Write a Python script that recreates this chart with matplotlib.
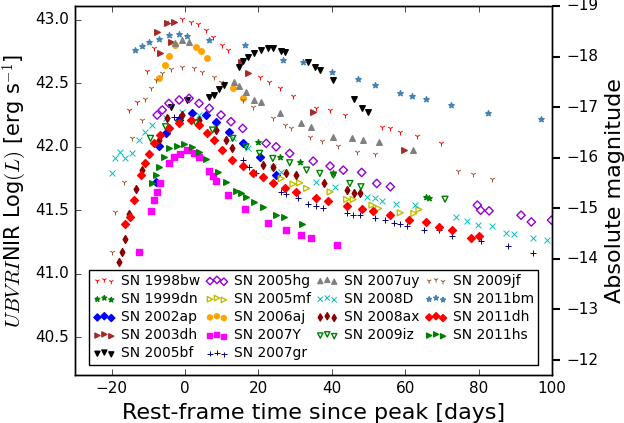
import matplotlib
matplotlib.use("Agg")
import matplotlib.pyplot as plt

plt.style.use("classic")

# ---- data (days since peak, log L) ----
sn98bw_t = [-15.3, -13.1, -10.3, -8.5, -5.3, -0.7, 1.6, 3.4, 5.7, 7.5, 10.2, 11.6, 20.3, 23.0, 25.8, 29.4,
            35.8, 39.5, 43.6, 53.6, 55.9, 58.6, 63.2, 69.6]
sn98bw_L = [42.29, 42.356, 42.6, 42.777, 42.987, 43.005, 42.987, 42.968, 42.921, 42.869, 42.803, 42.763,
            42.553, 42.513, 42.461, 42.4, 42.303, 42.29, 42.25, 42.158, 42.145, 42.119, 42.085, 42.032]
sn99dn_t = [19.8, 25.8, 31.2, 40.4, 65.5, 66.4]
sn99dn_L = [42.04, 41.921, 41.882, 41.79, 41.606, 41.6]
sn02ap_t = [-8.0, -7.1, -5.3, -1.6, 2.0, 5.7, 8.4, 12.0, 15.7, 20.3, 24.8]
sn02ap_L = [41.724, 42.008, 42.106, 42.211, 42.263, 42.25, 42.198, 42.119, 42.027, 41.921, 41.777]
sn03dh_t = [-7.6, -6.7, -4.8, -3.0, -3.9, 15.3, 17.1, 34.9, 59.5]
sn03dh_L = [42.908, 42.737, 42.974, 42.987, 42.829, 42.671, 42.579, 42.277, 41.974]
sn05bf_t = [-3.9, 0.6, 6.6, 8.0, 9.3, 10.7, 14.8, 15.7, 17.1, 18.9, 20.7, 22.6, 23.9, 26.2, 27.1, 33.5,
            35.3, 36.7, 40.2, 46.1, 48.1, 49.9]
sn05bf_L = [42.311, 42.369, 42.395, 42.408, 42.453, 42.487, 42.632, 42.679, 42.71, 42.737, 42.763, 42.777,
            42.782, 42.758, 42.745, 42.671, 42.632, 42.606, 42.527, 42.374, 42.303, 42.277]
sn05hg_t = [-7.6, -6.2, -4.4, -1.6, 1.1, 3.8, 6.6, 9.8, 12.5, 15.7, 22.1, 24.8, 28.5, 34.9, 39.5, 43.1,
            48.1, 52.2, 55.9, 79.6, 80.5, 82.8, 91.5, 94.3, 99.8]
sn05hg_L = [42.25, 42.29, 42.342, 42.369, 42.382, 42.342, 42.303, 42.25, 42.198, 42.145, 42.027, 42.0,
            41.948, 41.887, 41.848, 41.816, 41.798, 41.711, 41.685, 41.54, 41.5, 41.495, 41.461, 41.408, 41.422]
sn05mf_t = [26.2, 29.4, 31.2, 33.1, 39.5, 44.0, 45.8, 50.9, 52.7, 58.6, 62.3, 63.7]
sn05mf_L = [41.75, 41.706, 41.716, 41.672, 41.645, 41.585, 41.585, 41.54, 41.514, 41.48, 41.474, 41.506]
sn06aj_t = [-7.1, -5.5, -4.4, -2.6, 2.9, 4.3, 6.1, 13.0, 15.9]
sn06aj_L = [42.54, 42.645, 42.716, 42.803, 42.79, 42.758, 42.698, 42.461, 42.382]
sn07Y_t = [-12.6, -9.4, -8.5, -7.6, -6.7, -4.4, -3.0, -1.5, 0.6, 2.5, 3.7, 6.6, 7.5, 8.4, 11.6, 16.4,
           22.5, 27.6, 31.5, 34.4, 41.5]
sn07Y_L = [41.172, 41.495, 41.58, 41.645, 41.711, 41.874, 41.921, 41.943, 41.974, 41.953, 41.921, 41.811,
           41.769, 41.73, 41.619, 41.506, 41.4, 41.343, 41.303, 41.28, 41.224]
sn07gr_t = [-3.0, -1.6, 15.7, 17.5, 19.4, 26.2, 27.6, 30.8, 33.5, 35.8, 37.6, 44.0, 45.8, 47.7, 51.8,
            54.5, 56.8, 58.6, 60.5, 65.0, 69.1, 72.8, 80.5, 87.9, 94.7]
sn07gr_L = [42.237, 42.237, 41.895, 41.842, 41.79, 41.645, 41.627, 41.593, 41.553, 41.532, 41.514, 41.48,
            41.461, 41.461, 41.435, 41.422, 41.4, 41.395, 41.374, 41.348, 41.343, 41.295, 41.258, 41.216, 41.164]
sn07uy_t = [-2.6, -0.7, 1.1, 13.4, 14.8, 16.6, 18.9, 20.7, 25.8, 31.7, 34.4, 40.4, 45.4, 48.6, 52.7, 62.1]
sn07uy_L = [42.821, 42.842, 42.824, 42.513, 42.479, 42.435, 42.369, 42.356, 42.263, 42.19, 42.158,
            42.079, 42.071, 42.053, 42.04, 41.974]
sn08D_t = [-19.9, -19.0, -17.6, -16.3, -14.4, -12.6, -10.8, -9.0, -5.3, -0.7, 3.8, 8.4, 13.0, 17.1, 23.9,
           26.2, 35.8, 40.8, 49.5, 51.8, 53.6, 57.5, 62.7, 73.7, 76.7, 79.8, 83.5, 87.4, 89.7, 94.7, 98.6]
sn08D_L = [41.79, 41.908, 41.961, 41.908, 41.953, 42.053, 42.119, 42.171, 42.224, 42.277, 42.25, 42.158,
           42.066, 41.987, 41.842, 41.803, 41.724, 41.685, 41.606, 41.593, 41.572, 41.553, 41.54, 41.448,
           41.416, 41.382, 41.374, 41.322, 41.316, 41.285, 41.269]
sn08ax_t = [-17.9, -17.2, -16.4, -15.3, -13.3, -11.7, -7.1, -4.8, -0.7, 3.8, 8.4, 11.1, 12.9, 21.2, 23.9,
            27.6, 30.3, 37.9, 44.0, 46.0, 47.7]
sn08ax_L = [41.093, 41.172, 41.277, 41.474, 41.664, 41.816, 42.053, 42.224, 42.25, 42.211, 42.132, 42.053,
            41.987, 41.856, 41.842, 41.79, 41.777, 41.711, 41.658, 41.637, 41.632]
sn09iz_t = [-9.4, -5.3, -1.6, 2.9, 7.5, 13.0, 16.6, 20.3, 23.9, 28.5, 33.1, 36.7, 40.4, 44.9, 47.9, 70.8]
sn09iz_L = [42.066, 42.158, 42.184, 42.19, 42.132, 42.066, 42.0, 41.948, 41.908, 41.874, 41.816, 41.79,
            41.777, 41.711, 41.685, 41.587]
sn09jf_t = [-19.9, -19.0, -16.7, -14.4, -11.7, -10.8, -9.4, -8.0, -6.2, -3.9, -0.7, 2.5, 4.7, 7.9, 9.8,
            15.7, 18.5, 23.9, 27.1, 28.9, 34.0, 37.2, 41.7, 46.8, 51.8, 74.2, 78.3, 83.7]
sn09jf_L = [41.172, 41.488, 41.724, 42.066, 42.211, 42.374, 42.461, 42.527, 42.579, 42.613, 42.627, 42.619,
            42.592, 42.548, 42.513, 42.369, 42.316, 42.224, 42.171, 42.145, 42.079, 42.048, 42.006, 41.961,
            41.94, 41.811, 41.785, 41.745]
sn11bm_t = [-13.5, -11.7, -9.9, -7.1, -4.4, -1.6, 0.6, 6.6, 16.2, 26.7, 32.1, 39.9, 47.2, 51.8, 58.6,
            61.8, 65.5, 72.3, 82.4, 97.0]
sn11bm_L = [42.763, 42.795, 42.829, 42.848, 42.882, 42.89, 42.874, 42.842, 42.803, 42.684, 42.671, 42.592,
            42.535, 42.487, 42.421, 42.4, 42.377, 42.329, 42.269, 42.216]
sn11dh_t = [-16.3, -14.9, -14.0, -12.1, -10.8, -9.9, -8.5, -6.7, -4.4, -1.6, 1.6, 3.8, 6.1, 7.9, 10.2,
            12.9, 15.7, 18.5, 21.2, 23.9, 27.1, 30.3, 35.8, 39.0, 44.0, 48.1, 51.3, 55.9, 60.9, 65.5, 69.1,
            72.8, 77.8, 80.1]
sn11dh_L = [41.395, 41.448, 41.58, 41.777, 41.869, 41.943, 42.027, 42.092, 42.145, 42.19, 42.211, 42.171,
            42.106, 42.053, 41.974, 41.895, 41.848, 41.79, 41.764, 41.711, 41.672, 41.645, 41.6, 41.574,
            41.532, 41.506, 41.495, 41.461, 41.422, 41.408, 41.369, 41.348, 41.285, 41.295]
sn11hs_t = [-8.9, -8.0, -7.1, -5.8, -4.4, -2.1, -0.3, 1.8, 3.8, 5.8, 8.9, 11.1, 13.9, 15.3, 16.6, 18.9,
            21.2, 24.8, 26.9, 31.9]
sn11hs_L = [41.711, 41.777, 41.842, 41.916, 41.987, 42.006, 42.021, 42.0, 41.961, 41.903, 41.803, 41.724,
            41.653, 41.632, 41.606, 41.566, 41.527, 41.461, 41.443, 41.395]

# name, t, L, marker, colour, filled
series = [
    ("SN 1998bw", sn98bw_t, sn98bw_L, "1", "red", True),
    ("SN 1999dn", sn99dn_t, sn99dn_L, "*", "green", True),
    ("SN 2002ap", sn02ap_t, sn02ap_L, "D", "blue", True),
    ("SN 2003dh", sn03dh_t, sn03dh_L, ">", "brown", True),
    ("SN 2005bf", sn05bf_t, sn05bf_L, "v", "black", True),
    ("SN 2005hg", sn05hg_t, sn05hg_L, "D", "darkviolet", False),
    ("SN 2005mf", sn05mf_t, sn05mf_L, ">", "y", False),
    ("SN 2006aj", sn06aj_t, sn06aj_L, "o", "orange", True),
    ("SN 2007Y", sn07Y_t, sn07Y_L, "s", "magenta", True),
    ("SN 2007gr", sn07gr_t, sn07gr_L, "+", "navy", True),
    ("SN 2007uy", sn07uy_t, sn07uy_L, "^", "gray", True),
    ("SN 2008D", sn08D_t, sn08D_L, "x", "c", True),
    ("SN 2008ax", sn08ax_t, sn08ax_L, "d", "darkred", True),
    ("SN 2009iz", sn09iz_t, sn09iz_L, "v", "green", False),
    ("SN 2009jf", sn09jf_t, sn09jf_L, "1", "sienna", True),
    ("SN 2011bm", sn11bm_t, sn11bm_L, "*", "steelblue", True),
    ("SN 2011dh", sn11dh_t, sn11dh_L, "D", "red", True),
    ("SN 2011hs", sn11hs_t, sn11hs_L, ">", "green", True),
]

fig = plt.figure(figsize=(6.24, 4.23), dpi=100, facecolor="white")
ax = fig.add_axes([0.12, 0.113, 0.765, 0.873])

for name, t, L, mk, col, filled in series:
    if mk in ("1", "+", "x"):
        ax.scatter(t, L, marker=mk, color=col, s=18, linewidths=0.7, label=name)
    elif filled:
        ax.scatter(t, L, marker=mk, color=col, edgecolors=col, s=16, label=name)
    else:
        ax.scatter(t, L, marker=mk, facecolors="none", edgecolors=col, s=18, label=name)

ax.set_xlim(-30, 100)
ax.set_ylim(40.2, 43.11)
ax.set_xticks([-20, 0, 20, 40, 60, 80, 100])
ax.set_yticks([40.5, 41.0, 41.5, 42.0, 42.5, 43.0])
ax.tick_params(labelsize=11)
ax.set_xlabel("Rest-frame time since peak [days]", fontsize=16)
ax.set_ylabel(r"$UBVRI$NIR Log$(L)$ [erg s$^{-1}$]", fontsize=15)

ax.legend(loc="lower center", bbox_to_anchor=(0.5, 0.01), ncol=4, fontsize=10, scatterpoints=3,
          markerscale=0.9, handlelength=1.6, handletextpad=0.4, columnspacing=0.4, labelspacing=0.3,
          borderpad=0.3, frameon=True)

ax2 = ax.twinx()
ax2.set_ylim(-11.7, -19.0)
ax2.set_yticks([-12, -13, -14, -15, -16, -17, -18, -19])
ax2.tick_params(direction="out", labelsize=11, length=6, width=1.5)
ax2.set_ylabel("Absolute magnitude", fontsize=16)

fig.savefig("out.png", dpi=100, facecolor="white")
